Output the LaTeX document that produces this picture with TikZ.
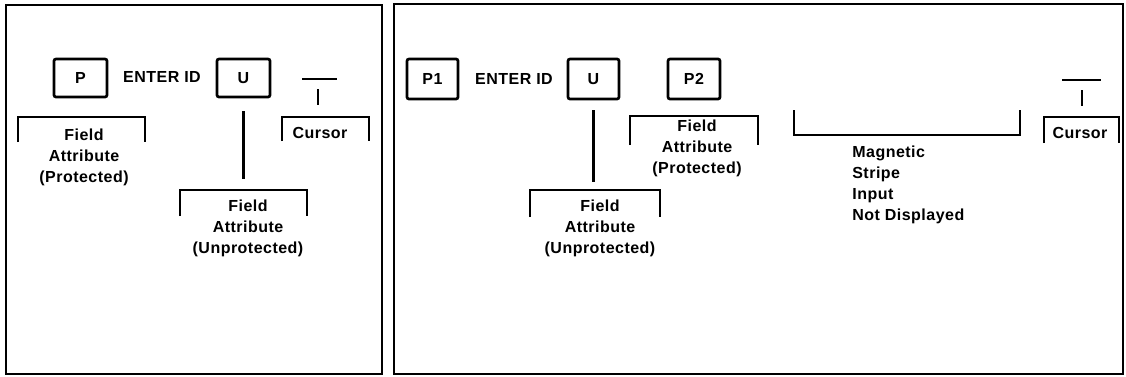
\documentclass[tikz,border=0pt]{standalone}
\usepackage{fontspec}
\setmainfont[LetterSpace=3]{Liberation Sans}
\begin{document}
\begin{tikzpicture}[x=1pt,y=-1pt,line width=2.7pt,
  txt/.style={font=\bfseries\fontsize{16}{21}\selectfont},
  keybox/.style={txt,draw,rounded corners=2pt,inner sep=0pt,minimum width=52pt,minimum height=39pt},
  lbl/.style={txt,align=center,inner sep=0pt},
  lbll/.style={txt,align=left,inner sep=0pt,anchor=west},
  screen/.style={line width=2.2pt},
  brk/.style={line width=2.7pt},
  lead/.style={line width=2.7pt}]
\useasboundingbox (0,0) rectangle (1126,376);
% screens
\draw[screen] (6,5) rectangle (382,374);
\draw[screen] (394,4) rectangle (1123,374);

% ---- left screen ----
\node[keybox,minimum width=53pt,minimum height=38pt] (p) at (80.5,78) {P};
\node[txt,inner sep=0pt] (enter1) at (162,77) {ENTER ID};
\node[keybox,minimum width=53pt,minimum height=38pt] (u1) at (243.5,78) {U};
\coordinate (cur1) at (319.5,79);
\draw[lead] ([xshift=-17.5pt]cur1) -- ([xshift=17.5pt]cur1);
\draw[lead] ([xshift=-1.5pt,yshift=-10pt]cur1) -- ([xshift=-1.5pt,yshift=-26pt]cur1);

\draw[brk] (18,142) |- (145,117) -- (145,142);
\node[lbl] (fap1) at (84,157) {Field\\Attribute\\(Protected)};

\draw[brk] (282,141) |- (369,117) -- (369,141);
\node[lbl] (c1) at (320,133) {Cursor};

\coordinate (ub1) at (243.5,190);
\draw[lead,shorten <=13pt,shorten >=11pt] (u1.south) -- (ub1);
\draw[brk] (180,216) |- (307,190) -- (307,216);
\node[lbl] (fau1) at (248,228) {Field\\Attribute\\(Unprotected)};

% ---- right screen ----
\node[keybox,minimum width=51pt,minimum height=40pt] (p1) at (432.5,79) {P1};
\node[txt,inner sep=0pt] (enter2) at (514,79) {ENTER ID};
\node[keybox,minimum width=51pt,minimum height=40pt] (u2) at (593.5,79) {U};
\node[keybox,minimum width=52pt,minimum height=40pt] (p2) at (694,79) {P2};

\coordinate (ub2) at (593.5,190);
\draw[lead,shorten <=10pt,shorten >=8pt] (u2.south) -- (ub2);
\draw[brk] (530,217) |- (660,190) -- (660,217);
\node[lbl] (fau2) at (600,228) {Field\\Attribute\\(Unprotected)};

\draw[brk] (630,145) |- (758,116) -- (758,145);
\node[lbl] (fap2) at (697,148) {Field\\Attribute\\(Protected)};

\draw[brk] (794,110) |- (1020,135) -- (1020,110);
\node[lbll] (mag) at (851,184.5) {Magnetic\\Stripe\\Input\\Not Displayed};

\coordinate (cur2) at (1081.5,80);
\draw[lead] ([xshift=-19.5pt]cur2) -- ([xshift=19.5pt]cur2);
\draw[lead] ([xshift=0.5pt,yshift=-10pt]cur2) -- ([xshift=0.5pt,yshift=-26pt]cur2);
\draw[brk] (1044,143) |- (1119,117) -- (1119,143);
\node[lbl] (c2) at (1080,133) {Cursor};
\end{tikzpicture}
\end{document}
